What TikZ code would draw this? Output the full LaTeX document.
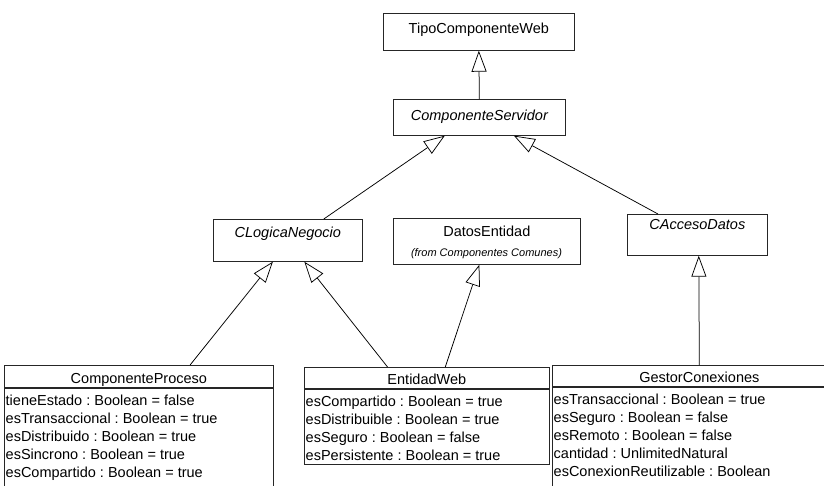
\documentclass[tikz,border=0pt]{standalone}
\usepackage{fontspec}
\setmainfont{Liberation Sans}
\usetikzlibrary{arrows.meta,calc}
\frenchspacing
\begin{document}
\begin{tikzpicture}[x=1pt,y=-1pt,
  every node/.style={font=\fontsize{14.5}{18}\selectfont},
  cls/.style={draw=black!85, line width=0.7pt, fill=white, inner sep=0pt, anchor=north west},
  abstract/.style={font=\fontsize{14.5}{18}\selectfont\itshape},
  attrs/.style={inner sep=0pt, anchor=north west, align=left},
  origin/.style={font=\fontsize{11}{12}\selectfont\itshape, inner sep=0pt, anchor=base},
  inherit/.style={draw=black, line width=0.75pt, -{Triangle[open, length=21pt, width=15pt]}},
]
\useasboundingbox (0,0) rectangle (824,486);
\clip (0,0) rectangle (824,486);

% upper hierarchy
\node[cls, minimum width=191pt, text height=20pt, text depth=17pt] (tcw) at (383,13) {TipoComponenteWeb};
\node[cls, abstract, minimum width=172pt, text height=21pt, text depth=15pt] (cs) at (393,99) {ComponenteServidor};
\node[cls, abstract, minimum width=149pt, text height=18pt, text depth=24pt] (cln) at (213,219) {CLogicaNegocio};
\node[cls, minimum width=187pt, text height=18pt, text depth=28pt] (de) at (393,218) {DatosEntidad};
\node[origin] (defrom) at (486.5,257) {(from Componentes Comunes)};
\node[cls, abstract, minimum width=140pt, text height=15pt, text depth=26pt] (cad) at (627,214) {CAccesoDatos};

% ComponenteProceso
\node[cls, minimum width=269pt, text height=18pt, text depth=4pt] (cp) at (4,365) {ComponenteProceso};
\node[cls, minimum width=269pt, minimum height=110pt] (cpb) at (cp.south west) {};
\node[attrs] (cpa) at ($(cpb.north west)+(1.5,7.5)$) {tieneEstado : Boolean = false\\
esTransaccional : Boolean = true\\
esDistribuido : Boolean = true\\
esSincrono : Boolean = true\\
esCompartido : Boolean = true};

% EntidadWeb
\node[cls, minimum width=245pt, text height=17pt, text depth=4pt] (ew) at (304,367) {EntidadWeb};
\node[cls, minimum width=245pt, minimum height=75pt] (ewb) at (ew.south west) {};
\node[attrs] (ewa) at ($(ewb.north west)+(1.5,7.5)$) {esCompartido : Boolean = true\\
esDistribuible : Boolean = true\\
esSeguro : Boolean = false\\
esPersistente : Boolean = true};

% GestorConexiones
\node[cls, minimum width=294pt, text height=17pt, text depth=4pt] (gc) at (552,365) {GestorConexiones};
\node[cls, minimum width=294pt, minimum height=110pt] (gcb) at (gc.south west) {};
\node[attrs] (gca) at ($(gcb.north west)+(1.5,7.5)$) {esTransaccional : Boolean = true\\
esSeguro : Boolean = false\\
esRemoto : Boolean = false\\
cantidad : UnlimitedNatural\\
esConexionReutilizable : Boolean};

% generalizations
\draw[inherit] (cs.north) -- (tcw.south);
\draw[inherit] ($(cln.north west)!0.74!(cln.north east)$) -- ($(cs.south west)!0.30!(cs.south east)$);
\draw[inherit] ($(cad.north west)!0.22!(cad.north east)$) -- ($(cs.south west)!0.70!(cs.south east)$);
\draw[inherit] ($(cp.north west)!0.69!(cp.north east)$) -- ($(cln.south west)!0.40!(cln.south east)$);
\draw[inherit] ($(ew.north west)!0.34!(ew.north east)$) -- ($(cln.south west)!0.61!(cln.south east)$);
\draw[inherit] ($(ew.north west)!0.575!(ew.north east)$) -- ($(de.south west)!0.46!(de.south east)$);
\draw[inherit] (gc.north) -- ($(cad.south west)!0.51!(cad.south east)$);
\end{tikzpicture}
\end{document}
